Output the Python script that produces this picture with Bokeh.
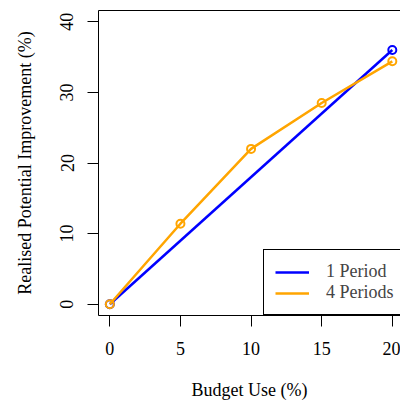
from bokeh.plotting import figure
from bokeh.models import (LinearAxis, FixedTicker, Range1d, Legend, LegendItem)
from bokeh.embed import file_html
from bokeh.resources import INLINE

# data
budget_1p = [0, 20]
improve_1p = [0.0, 36.0]
budget_4p = [0, 5, 10, 15, 20]
improve_4p = [0.0, 11.4, 22.0, 28.5, 34.4]
x_ticks = [0, 5, 10, 15, 20]
y_ticks = [0, 10, 20, 30, 40]
x_title = "Budget Use (%)"
y_title = "Realised Potential Improvement (%)"
labels = ["1 Period", "4 Periods"]

FONT = "Liberation Serif"
FS = "18px"

p = figure(width=400, height=403, output_backend="svg", toolbar_location=None,
           x_range=Range1d(-0.8, 20.58), y_range=Range1d(-1.6, 41.6),
           min_border_left=98, min_border_right=0, min_border_top=10,
           min_border_bottom=88, x_axis_location=None, y_axis_location=None)
p.outline_line_color = None
p.grid.visible = False
p.background_fill_color = "white"
p.border_fill_color = "white"

xa = LinearAxis(ticker=FixedTicker(ticks=x_ticks), axis_label=x_title)
ya = LinearAxis(ticker=FixedTicker(ticks=y_ticks), axis_label=y_title)
for ax in (xa, ya):
    ax.major_tick_out = 11
    ax.major_tick_in = 0
    ax.minor_tick_out = 0
    ax.minor_tick_in = 0
    ax.axis_line_color = "black"
    ax.major_tick_line_color = "black"
    ax.major_label_text_font = FONT
    ax.major_label_text_font_size = FS
    ax.major_label_text_color = "black"
    ax.axis_label_text_font = FONT
    ax.axis_label_text_font_size = FS
    ax.axis_label_text_font_style = "normal"
    ax.axis_label_text_color = "black"
xa.major_label_standoff = 15
xa.axis_label_standoff = 22
ya.major_label_standoff = 14
ya.major_label_orientation = "vertical"
ya.axis_label_standoff = 23
p.add_layout(xa, "below")
p.add_layout(ya, "left")

top = LinearAxis(ticker=FixedTicker(ticks=[]), major_tick_out=0, major_tick_in=0,
                 minor_tick_out=0, minor_tick_in=0, major_label_standoff=0,
                 major_label_text_font_size="0px", axis_line_color="black")
p.add_layout(top, "above")

l1 = p.line(budget_1p, improve_1p, line_color="#0000FF", line_width=2.5)
p.scatter(budget_1p, improve_1p, size=8, fill_color=None, line_color="#0000FF", line_width=2)
l2 = p.line(budget_4p, improve_4p, line_color="#FFA500", line_width=2.5)
p.scatter(budget_4p, improve_4p, size=8, fill_color=None, line_color="#FFA500", line_width=2)

legend = Legend(items=[LegendItem(label=labels[0], renderers=[l1]),
                       LegendItem(label=labels[1], renderers=[l2])],
                location=(165, 0), padding=11, spacing=0, margin=0,
                glyph_width=34, glyph_height=20, label_height=20, label_standoff=17,
                label_width=100,
                label_text_font=FONT, label_text_font_size=FS,
                border_line_color="black", border_line_width=1, border_line_alpha=1,
                background_fill_color="white", background_fill_alpha=1)
p.add_layout(legend, "center")

open("out.html", "w").write(file_html(p, INLINE))
